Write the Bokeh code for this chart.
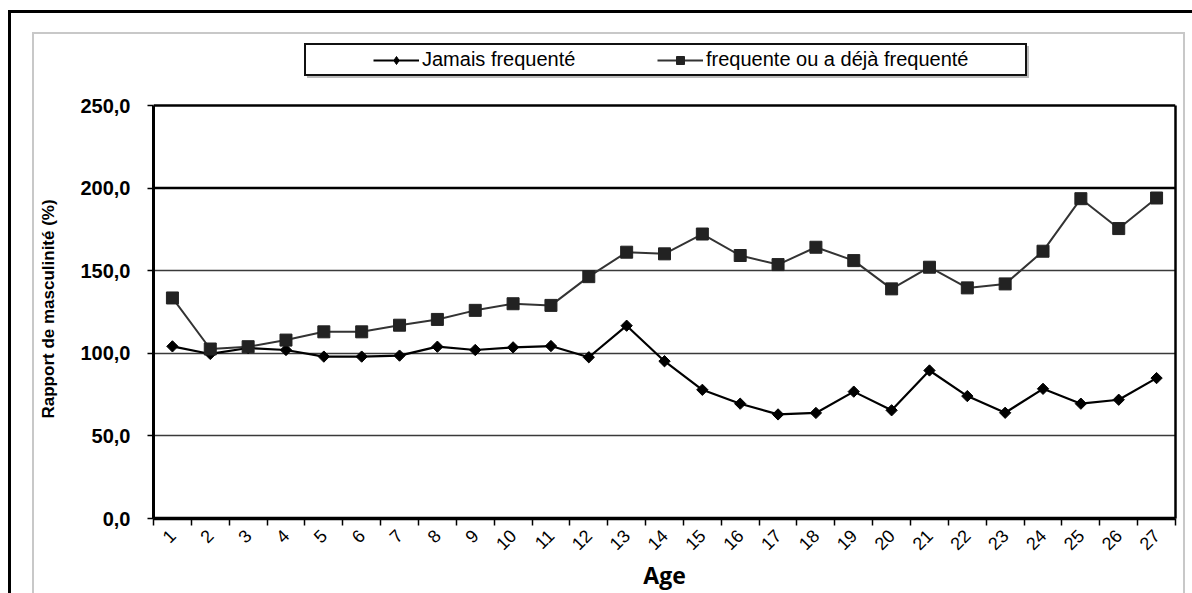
import math
from bokeh.plotting import figure
from bokeh.models import (Range1d, FixedTicker, Legend, LegendItem, Span,
                          InlineStyleSheet, LinearAxis, Title)
from bokeh.embed import file_html
from bokeh.resources import INLINE

# ---------------- data ----------------
ages = list(range(1, 28))
age_labels = [str(a) for a in ages]
jamais = [104.2, 99.6, 103.2, 102.0, 98.0, 98.0, 98.6, 104.0, 102.0, 103.6,
          104.4, 97.6, 116.7, 95.2, 77.9, 69.5, 63.0, 63.9, 76.8, 65.5,
          89.6, 74.1, 64.0, 78.5, 69.5, 71.9, 85.0]
frequente = [133.5, 102.6, 104.0, 108.0, 113.0, 113.0, 117.0, 120.5, 126.0, 130.0,
             129.0, 146.4, 161.2, 160.2, 172.2, 159.2, 153.7, 164.2, 156.1, 139.0,
             152.1, 139.6, 142.0, 161.8, 193.6, 175.5, 194.0]
y_ticks = [0, 50, 100, 150, 200, 250]
y_tick_labels = ["0,0", "50,0", "100,0", "150,0", "200,0", "250,0"]
legend_labels = ["Jamais frequenté", "frequente ou a déjà frequenté"]
x_title = "Age"
y_title = "Rapport de masculinité (%)"

FONT = "Liberation Sans"

# layout (pixels): plotting area 153..1175 x 105..518, legend strip above it
FRAME_TOP, PLOT_TOP, PLOT_BOTTOM = 43, 105, 518
y_max = y_ticks[-1]
y_end = y_max * (PLOT_BOTTOM - FRAME_TOP) / (PLOT_BOTTOM - PLOT_TOP)

p = figure(width=1192, height=593, output_backend="svg", toolbar_location=None,
           x_range=Range1d(0.5, 27.5), y_range=Range1d(0, y_end),
           min_border_left=153, min_border_right=17, min_border_top=FRAME_TOP,
           min_border_bottom=593 - PLOT_BOTTOM)
p.background_fill_color = None
p.border_fill_color = None
p.outline_line_color = None

# decorative frames (page border, inner panel, legend box) drawn as CSS background
frames = [
    ("#000000", 8, 10, 3, 583),
    ("#000000", 8, 10, 1184, 3),
    ("#c8c8c8", 32, 32, 2, 561),
    ("#c8c8c8", 32, 32, 1153, 2),
    ("#c8c8c8", 1183, 32, 2, 561),
    ("#111111", 304, 43, 723, 2),
    ("#111111", 304, 74, 723, 2),
    ("#111111", 304, 43, 2, 33),
    ("#111111", 1025, 43, 2, 33),
    ("#bbbbbb", 1027, 46, 2, 32),
    ("#bbbbbb", 307, 76, 722, 2),
]
css = ":host { background: " + ", ".join(
    f"linear-gradient({c},{c}) {x}px {y}px / {w}px {h}px no-repeat"
    for c, x, y, w, h in frames) + ", #ffffff; }"
p.stylesheets = [InlineStyleSheet(css=css)]

# y axis
p.yaxis.bounds = (0, y_max)
p.yaxis.ticker = FixedTicker(ticks=y_ticks)
p.yaxis.major_label_overrides = dict(zip(y_ticks, y_tick_labels))
p.yaxis.axis_line_width = 3
p.yaxis.axis_line_color = "black"
p.yaxis.major_tick_out = 6
p.yaxis.major_tick_in = 0
p.yaxis.major_tick_line_width = 1.5
p.yaxis.major_tick_line_color = "black"
p.yaxis.minor_tick_line_color = None
p.yaxis.major_label_text_font = FONT
p.yaxis.major_label_text_font_size = "20px"
p.yaxis.major_label_text_font_style = "bold"
p.yaxis.major_label_text_color = "black"
p.yaxis.major_label_standoff = 17

# y title, placed along the 0..250 part of the axis
p.add_layout(Title(text=y_title, align="left", vertical_align="bottom",
                   offset=100, standoff=40, text_font=FONT,
                   text_font_size="17px", text_font_style="bold",
                   text_color="black"), "left")

# right border as an axis without ticks
right_axis = LinearAxis(bounds=(0, y_max), ticker=FixedTicker(ticks=[]),
                        axis_line_width=2.5, axis_line_color="black",
                        major_tick_line_color=None, minor_tick_line_color=None,
                        major_label_text_font_size="0px")
p.add_layout(right_axis, "right")

# x axis
p.xaxis.ticker = FixedTicker(ticks=ages,
                             minor_ticks=[a - 0.5 for a in ages] + [ages[-1] + 0.5])
p.xaxis.major_label_overrides = dict(zip(ages, age_labels))
p.xaxis.major_tick_line_color = None
p.xaxis.major_tick_out = 0
p.xaxis.major_tick_in = 0
p.xaxis.minor_tick_out = 7
p.xaxis.minor_tick_in = 0
p.xaxis.minor_tick_line_width = 1.5
p.xaxis.minor_tick_line_color = "black"
p.xaxis.axis_line_width = 3.5
p.xaxis.axis_line_color = "black"
p.xaxis.major_label_orientation = math.pi / 4
p.xaxis.major_label_text_font = FONT
p.xaxis.major_label_text_font_size = "18px"
p.xaxis.major_label_text_color = "black"
p.xaxis.major_label_standoff = 7
p.xaxis.axis_label = x_title
p.xaxis.axis_label_text_font = "Open Sans"
p.xaxis.axis_label_text_font_size = "23px"
p.xaxis.axis_label_text_font_style = "bold"
p.xaxis.axis_label_text_color = "black"
p.xaxis.axis_label_standoff = 0

# grid
p.xgrid.visible = False
p.ygrid.ticker = FixedTicker(ticks=y_ticks[1:-2])
p.ygrid.grid_line_color = "#3a3a3a"
p.ygrid.grid_line_width = 1.5
p.add_layout(Span(location=y_ticks[-2], dimension="width", line_color="black", line_width=2.5))
p.add_layout(Span(location=y_ticks[-1], dimension="width", line_color="black", line_width=2.5))

# series
r1l = p.line(ages, jamais, line_color="black", line_width=2.2)
r1m = p.scatter(ages, jamais, marker="square", angle=math.pi / 4, size=8,
                fill_color="black", line_color="black")
r2l = p.line(ages, frequente, line_color="#333333", line_width=2)
r2m = p.scatter(ages, frequente, marker="square", size=12,
                fill_color="#222222", line_color="#222222")

# legend-only key markers (hidden renderers, used only for the legend glyphs)
k1 = p.scatter(x=ages[:1], y=jamais[:1], marker="diamond", size=11,
               fill_color="black", line_color="black", visible=False)
k2 = p.scatter(x=ages[:1], y=frequente[:1], marker="square", size=9,
               fill_color="#222222", line_color="#222222", visible=False)

legend = Legend(items=[LegendItem(label=legend_labels[0], renderers=[r1l, k1]),
                       LegendItem(label=legend_labels[1], renderers=[r2l, k2])],
                location=(220, 447), orientation="horizontal",
                border_line_color=None, background_fill_alpha=0,
                padding=0, spacing=5, margin=0,
                glyph_width=46, glyph_height=20, label_standoff=3,
                label_width=230, label_height=20,
                label_text_font=FONT, label_text_font_size="20px",
                label_text_color="black")
p.add_layout(legend)

open("out.html", "w").write(file_html(p, INLINE))
